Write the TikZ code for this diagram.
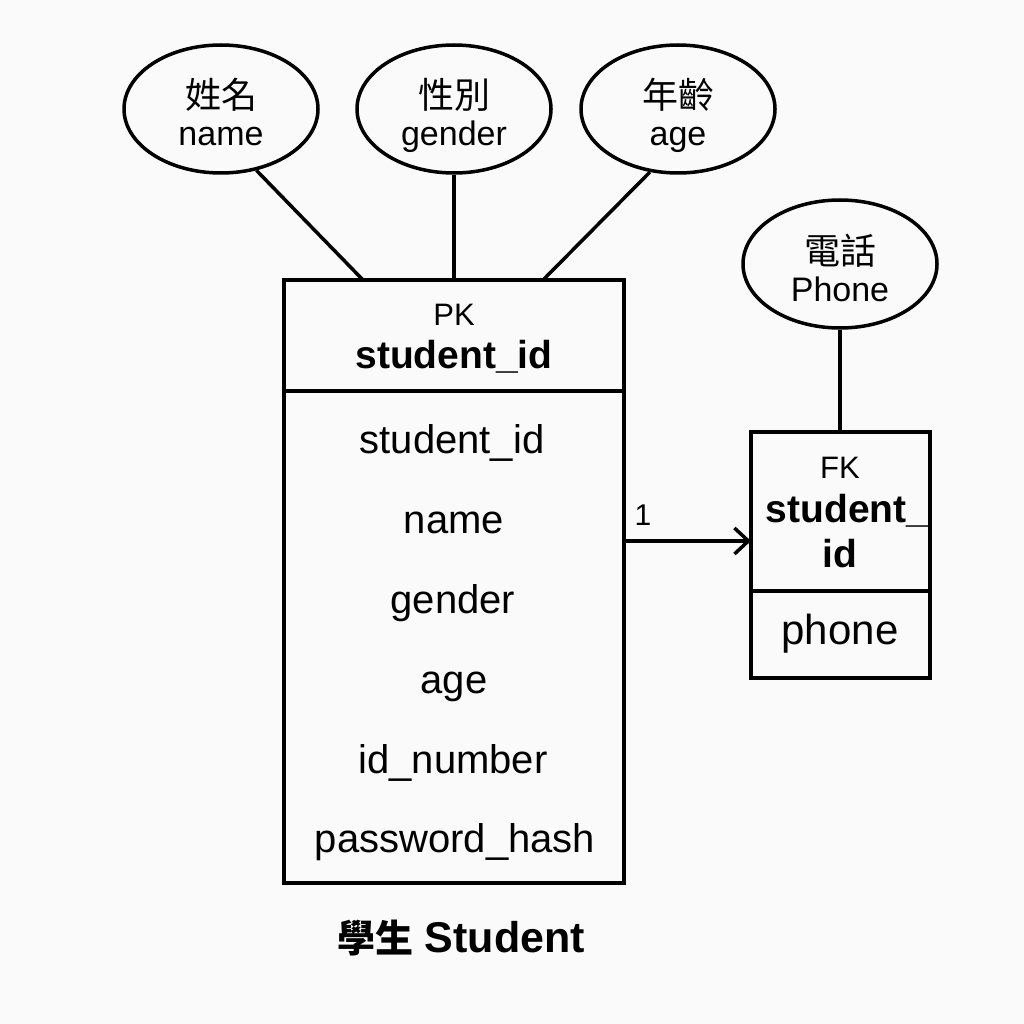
\documentclass[tikz,border=0pt]{standalone}
\usepackage{fontspec}
\setmainfont{Liberation Sans}
\newfontfamily\cjk{Noto Sans CJK TC}
\usetikzlibrary{shapes.geometric,arrows.meta}
\definecolor{bgc}{RGB}{250,250,250}
\tikzset{
  attr/.style={draw, line width=3.5pt, ellipse, minimum width=194pt, minimum height=128pt, inner sep=0pt},
  zh/.style={font=\fontsize{36}{40}\selectfont\cjk, inner sep=0pt, anchor=base},
  en/.style={font=\fontsize{34}{38}\selectfont, inner sep=0pt, anchor=base},
  tbl/.style={draw, line width=3.5pt, rectangle, inner sep=0pt},
  row/.style={font=\fontsize{40}{44}\selectfont, inner sep=0pt, anchor=base},
  key/.style={font=\fontsize{31}{34}\selectfont, inner sep=0pt, anchor=base},
  keyb/.style={font=\fontsize{39}{42}\selectfont\bfseries, inner sep=0pt, anchor=base},
  conn/.style={line width=3.5pt},
}
\begin{document}
\begin{tikzpicture}[x=1pt,y=-1pt]
\fill[bgc] (0,0) rectangle (1024,1024);
\useasboundingbox (0,0) rectangle (1024,1024);

% attribute ellipses
\node[attr] (name) at (221,109) {};
\node[zh] (nameZh) at (221,109) {姓名};
\node[en] (nameEn) at (221,146) {name};
\node[attr] (gender) at (454,109) {};
\node[zh] (genderZh) at (454,109) {性別};
\node[en] (genderEn) at (454,146) {gender};
\node[attr] (age) at (678,109) {};
\node[zh] (ageZh) at (678,109) {年齡};
\node[en] (ageEn) at (678,146) {age};
\node[attr] (phoneattr) at (840,264) {};
\node[zh] (phoneZh) at (840,264) {電話};
\node[en] (phoneEn) at (840,301) {Phone};

% main table
\node[tbl, minimum width=340pt, minimum height=603pt] (student) at (454,581.5) {};
\coordinate (hdivL) at (284,391);
\coordinate (hdivR) at (624,391);
\draw[conn] (hdivL) -- (hdivR);
\node[key] (pk) at (454,325) {PK};
\node[keyb] (pkid) at (454,368) {student\_id};
\node[row] (r1) at (452,453) {student\_id};
\node[row] (r2) at (454,533) {name};
\node[row] (r3) at (453,613) {gender};
\node[row] (r4) at (454,693) {age};
\node[row] (r5) at (453,773) {id\_number};
\node[row] (r6) at (455,852) {password\_hash};

% phone table
\node[tbl, minimum width=179pt, minimum height=246pt] (phonetbl) at (840.5,555) {};
\coordinate (pdivL) at (751,591);
\coordinate (pdivR) at (930,591);
\draw[conn] (pdivL) -- (pdivR);
\node[key] (fk) at (840,478) {FK};
\node[keyb] (fkid1) at (847,522) {student\_};
\node[keyb] (fkid2) at (840,567) {id};
\node[row, font=\fontsize{42}{44}\selectfont] (ph) at (840,644) {phone};

% connectors
\coordinate (t1) at (363,280);
\coordinate (t3) at (543,280);
\draw[conn] (name.-60) -- (t1);
\draw[conn] (gender.south) -- (gender.south |- student.north);
\draw[conn] (age.-114) -- (t3);
\draw[conn] (phoneattr.south) -- (phoneattr.south |- phonetbl.north);

\coordinate (a1) at (624,541);
\coordinate (a2) at (751,541);
\draw[conn, -{Straight Barb[length=14pt,width=26pt,line width=3.5pt]}] (a1) -- (a2);
\node[font=\fontsize{30}{32}\selectfont, inner sep=0pt, anchor=base] (one) at (643,525) {1};

% title
\node[font=\fontsize{43}{46}\selectfont\bfseries, inner sep=0pt, anchor=base] (title) at (461,952) {{\cjk\fontsize{38}{46}\selectfont\bfseries 學生} Student};
\end{tikzpicture}
\end{document}
